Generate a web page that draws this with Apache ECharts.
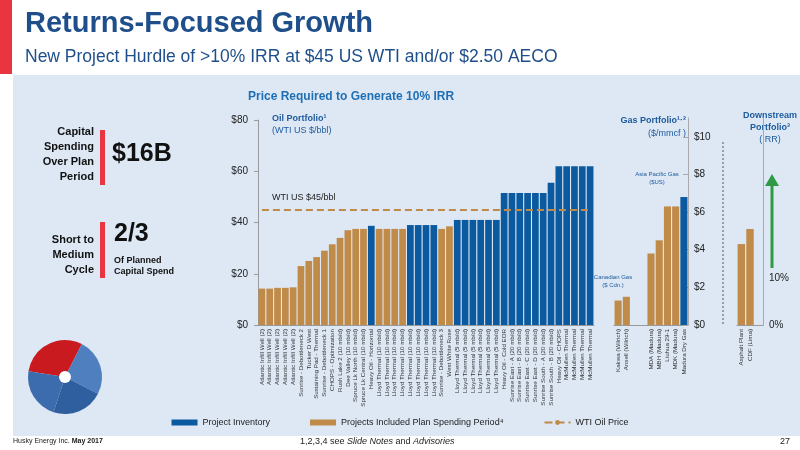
<!DOCTYPE html>
<html>
<head>
<meta charset="utf-8">
<script src="https://cdn.jsdelivr.net/npm/echarts@6/dist/echarts.min.js"></script>
<style>html,body{margin:0;padding:0;background:#fff}#main{width:800px;height:450px}</style>
</head>
<body>
<div id="main"></div>
<script>
// 油气项目数据
var oilNames = ['Atlantic Infill Well (2)','Atlantic Infill Well (2)','Atlantic Infill Well (2)','Atlantic Infill Well (2)','Atlantic Infill Well (2)',
  'Sunrise - Debottleneck 2','Tucker D West','Sustaining Pad - Thermal','Sunrise - Debottleneck 1','CHOPS - Optimization',
  'Rush Lake 2 (10 mb/d)','Dee Valley (10 mb/d)','Spruce Lk North (10 mb/d)','Spruce Lk Central (10 mb/d)','Heavy Oil - Horizontal',
  'Lloyd Thermal (10 mb/d)','Lloyd Thermal (10 mb/d)','Lloyd Thermal (10 mb/d)','Lloyd Thermal (10 mb/d)','Lloyd Thermal (10 mb/d)',
  'Lloyd Thermal (10 mb/d)','Lloyd Thermal (10 mb/d)','Lloyd Thermal (10 mb/d)','Sunrise - Debottleneck 3','West White Rose',
  'Lloyd Thermal (5 mb/d)','Lloyd Thermal (5 mb/d)','Lloyd Thermal (5 mb/d)','Lloyd Thermal (5 mb/d)','Lloyd Thermal (5 mb/d)',
  'Lloyd Thermal (5 mb/d)','Heavy Oil - Cold EOR','Sunrise East - A (20 mb/d)','Sunrise East - B (20 mb/d)','Sunrise East - C (20 mb/d)',
  'Sunrise East - D (20 mb/d)','Sunrise South - A (20 mb/d)','Sunrise South - B (20 mb/d)','Heavy Oil - CHOPS',
  'McMullen Thermal','McMullen Thermal','McMullen Thermal','McMullen Thermal'];
var oilValues = [14.2,14.2,14.5,14.5,14.7,23,25,26.5,29,31.5,34,37,37.5,37.5,38.7,
  37.5,37.5,37.5,37.5,39,39,39,39,37.5,38.5,41,41,41,41,41,41,51.5,51.5,51.5,51.5,51.5,51.5,55.5,62,62,62,62,62];
// 1 = 计划内项目（棕色）, 0 = 项目储备（蓝色）
var oilIncluded = [1,1,1,1,1,1,1,1,1,1,1,1,1,1,0,1,1,1,1,0,0,0,0,1,1,0,0,0,0,0,0,0,0,0,0,0,0,0,0,0,0,0,0];
var gasNames = ['Kakwa (Wilrich)','Ansell (Wilrich)','','','MDA (Madura)','MBH (Madura)','Liuhua 29-1','MDK (Madura)','Madura Dry Gas'];
var gasValues = [1.3,1.5,null,null,3.8,4.5,6.3,6.3,6.8];
var gasIncluded = [1,1,1,1,1,1,1,1,0];
var downNames = ['Asphalt Plant','CDF (Lima)',''];
var downValues = [4.3,5.1,null];
var wtiPrice = 45;

var blue = '#0b5aa0', tan = '#c08a48', textBlue = '#1d5a9e';

function split(vals, inc, flag){
  return vals.map(function(v,i){ return inc[i]===flag ? v : null; });
}

var chart = echarts.init(document.getElementById('main'));
var font = 'Liberation Sans, Arial, sans-serif';
var catAxisLabel = {rotate:90, fontSize:6.2, color:'#333', interval:0, margin:4, fontFamily:font};
var option = {
  animation:false,
  textStyle:{fontFamily:font},
  grid:[
    {left:258, right:206, top:120, bottom:125},
    {left:614, right:112, top:118, bottom:125},
    {left:737, right:37, top:118, bottom:125}
  ],
  xAxis:[
    {gridIndex:0, type:'category', data:oilNames, axisLine:{lineStyle:{color:'#999'}}, axisTick:{show:false}, axisLabel:catAxisLabel},
    {gridIndex:1, type:'category', data:gasNames, axisLine:{lineStyle:{color:'#999'}}, axisTick:{show:false}, axisLabel:catAxisLabel},
    {gridIndex:2, type:'category', data:downNames, axisLine:{lineStyle:{color:'#999'}}, axisTick:{show:false}, axisLabel:catAxisLabel}
  ],
  yAxis:[
    {gridIndex:0, type:'value', min:0, max:80, interval:20, splitLine:{show:false},
     axisLine:{show:true, lineStyle:{color:'#999'}}, axisTick:{show:true, length:4},
     axisLabel:{color:'#222', fontSize:10, formatter:'${value}', margin:10}},
    {gridIndex:1, type:'value', position:'right', min:0, max:11, interval:2, splitLine:{show:false},
     axisLine:{show:true, lineStyle:{color:'#aaa'}}, axisTick:{show:true, length:5, inside:true},
     axisLabel:{color:'#222', fontSize:10, formatter:'${value}', showMaxLabel:false, margin:6}},
    {gridIndex:2, type:'value', position:'right', min:0, max:11, interval:2.5, splitLine:{show:false},
     axisLine:{show:true, lineStyle:{color:'#aaa'}}, axisTick:{show:false},
     axisLabel:{color:'#222', fontSize:10, margin:6, showMaxLabel:false,
       formatter:function(v){ return v===0 ? '0%' : (v===2.5 ? '10%' : ''); }}}
  ],
  legend:{
    bottom:18, left:'center', itemGap:40, itemWidth:26, itemHeight:6,
    textStyle:{fontSize:9, color:'#222'},
    data:[{name:'Project Inventory', icon:'rect'},
          {name:'Projects Included Plan Spending Period⁴', icon:'rect'},
          {name:'WTI Oil Price'}]
  },
  series:[
    {name:'Project Inventory', type:'bar', stack:'o', xAxisIndex:0, yAxisIndex:0, barCategoryGap:'14%',
     itemStyle:{color:blue}, data:split(oilValues, oilIncluded, 0)},
    {name:'Projects Included Plan Spending Period⁴', type:'bar', stack:'o', xAxisIndex:0, yAxisIndex:0, barCategoryGap:'14%',
     itemStyle:{color:tan}, data:split(oilValues, oilIncluded, 1),
     markLine:{symbol:'none', silent:true, lineStyle:{color:tan, type:[7,4], width:2.2},
       label:{show:false}, data:[[{xAxis:0, yAxis:wtiPrice},{xAxis:oilNames.length-1, yAxis:wtiPrice}]]}},
    {name:'WTI Oil Price', type:'line', data:[], itemStyle:{color:tan}, lineStyle:{color:tan, type:'dashed', width:2}, symbol:'none'},
    {name:'Project Inventory', type:'bar', stack:'g', xAxisIndex:1, yAxisIndex:1, barCategoryGap:'14%',
     itemStyle:{color:blue}, data:split(gasValues, gasIncluded, 0)},
    {name:'Projects Included Plan Spending Period⁴', type:'bar', stack:'g', xAxisIndex:1, yAxisIndex:1, barCategoryGap:'14%',
     itemStyle:{color:tan}, data:split(gasValues, gasIncluded, 1)},
    {name:'Projects Included Plan Spending Period⁴', type:'bar', xAxisIndex:2, yAxisIndex:2, barCategoryGap:'14%',
     itemStyle:{color:tan}, data:downValues}
  ],
  graphic:[
    {type:'rect', z:-10, shape:{x:13, y:75, width:787, height:361}, style:{fill:'#dde8f4'}},
    {type:'rect', shape:{x:0, y:0, width:12, height:74}, style:{fill:'#e8353f'}},
    {type:'text', x:25, y:9, style:{text:'Returns-Focused Growth', font:'bold 29px '+font, fill:'#1f4f8a'}},
    {type:'text', x:25, y:48, style:{text:'New Project Hurdle of >10% IRR at $45 US WTI and/or $2.50 AECO', font:'17.5px '+font, fill:'#1f4f8a'}},
    {type:'text', x:248, y:91, style:{text:'Price Required to Generate 10% IRR', font:'bold 12px '+font, fill:'#1f6fb5'}},
    {type:'text', x:272, y:113, style:{text:'{b|Oil Portfolio¹}\n(WTI US $/bbl)', font:'9px '+font, fill:textBlue, lineHeight:12,
      rich:{b:{font:'bold 9px '+font, fill:textBlue}}}},
    {type:'text', x:272, y:193, style:{text:'WTI US $45/bbl', font:'9px '+font, fill:'#222'}},
    {type:'text', x:686, y:114, style:{text:'{b|Gas Portfolio¹·²}\n($/mmcf )', font:'9px '+font, fill:textBlue, align:'right', lineHeight:13,
      rich:{b:{font:'bold 9px '+font, fill:textBlue}}}},
    {type:'text', x:770, y:110, style:{text:'{b|Downstream}\n{b|Portfolio³}\n(IRR)', font:'9px '+font, fill:textBlue, align:'center', lineHeight:12,
      rich:{b:{font:'bold 9px '+font, fill:textBlue}}}},
    {type:'text', x:613, y:273, style:{text:'Canadian Gas\n($ Cdn.)', font:'6px '+font, fill:textBlue, align:'center', lineHeight:8}},
    {type:'text', x:657, y:170, style:{text:'Asia Pacific Gas\n($US)', font:'6px '+font, fill:textBlue, align:'center', lineHeight:8}},
    {type:'line', shape:{x1:723, y1:142, x2:723, y2:325}, style:{stroke:'#555', lineWidth:1, lineDash:[2,2]}},
    {type:'line', shape:{x1:772, y1:268, x2:772, y2:184}, style:{stroke:'#2e9a45', lineWidth:3}},
    {type:'polygon', shape:{points:[[765,186],[779,186],[772,174]]}, style:{fill:'#2e9a45'}},
    // 左侧说明
    {type:'text', x:94, y:124, style:{text:'Capital\nSpending\nOver Plan\nPeriod', font:'bold 11px '+font, fill:'#111', align:'right', lineHeight:15}},
    {type:'rect', shape:{x:100, y:130, width:5, height:55}, style:{fill:'#e8353f'}},
    {type:'text', x:112, y:142, style:{text:'$16B', font:'bold 25px '+font, fill:'#111'}},
    {type:'text', x:94, y:232, style:{text:'Short to\nMedium\nCycle', font:'bold 11px '+font, fill:'#111', align:'right', lineHeight:15}},
    {type:'rect', shape:{x:100, y:222, width:5, height:56}, style:{fill:'#e8353f'}},
    {type:'text', x:114, y:222, style:{text:'2/3', font:'bold 25px '+font, fill:'#111'}},
    {type:'text', x:114, y:255, style:{text:'Of Planned\nCapital Spend', font:'bold 9px '+font, fill:'#111', lineHeight:11}},
    // 标志
    {type:'sector', shape:{cx:65, cy:377, r:37, r0:0, startAngle:-Math.PI*0.95, endAngle:-Math.PI*0.35}, style:{fill:'#c81a1f'}},
    {type:'sector', shape:{cx:65, cy:377, r:37, r0:0, startAngle:-Math.PI*0.35, endAngle:Math.PI*0.15}, style:{fill:'#4f7fbf'}},
    {type:'sector', shape:{cx:65, cy:377, r:37, r0:0, startAngle:Math.PI*0.15, endAngle:Math.PI*0.6}, style:{fill:'#2f5f9f'}},
    {type:'sector', shape:{cx:65, cy:377, r:37, r0:0, startAngle:Math.PI*0.6, endAngle:Math.PI*1.05}, style:{fill:'#3d6cae'}},
    {type:'circle', shape:{cx:65, cy:377, r:6}, style:{fill:'#fff'}},
    // 页脚
    {type:'text', x:13, y:438, style:{text:'Husky Energy Inc. {b|May 2017}', font:'7px '+font, fill:'#222',
      rich:{b:{font:'bold 7px '+font, fill:'#222'}}}},
    {type:'text', x:300, y:437, style:{text:'1,2,3,4 see {i|Slide Notes} and {i|Advisories}', font:'9px '+font, fill:'#222',
      rich:{i:{font:'italic 9px '+font, fill:'#222'}}}},
    {type:'text', x:780, y:437, style:{text:'27', font:'9px '+font, fill:'#222'}}
  ]
};
chart.setOption(option);
</script>
</body>
</html>
